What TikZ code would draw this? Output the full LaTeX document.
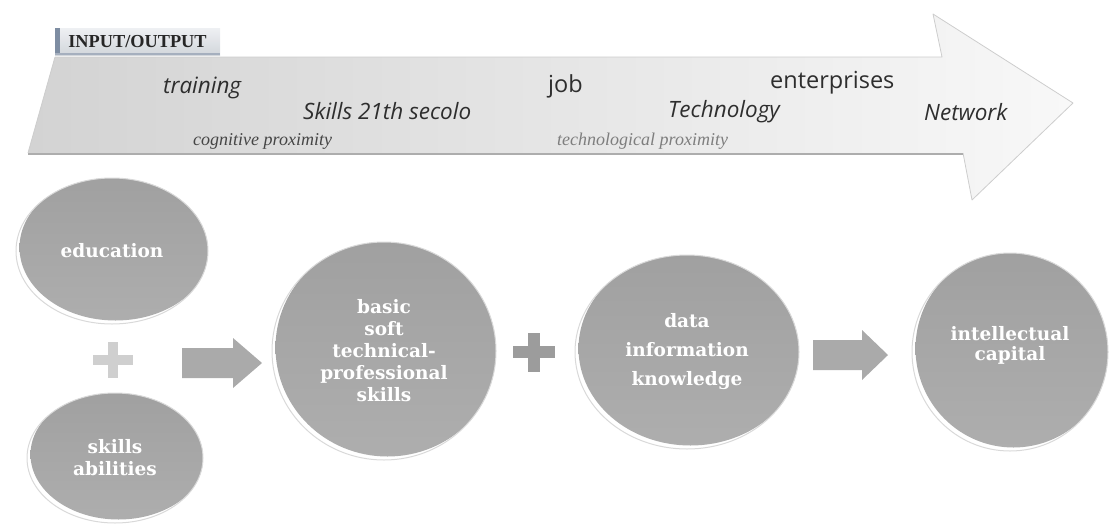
\documentclass[tikz,border=0pt]{standalone}
\usepackage{fontspec}
\setmainfont{DejaVu Serif}
\newfontfamily\flowsans{Open Sans}
\newfontfamily\flowserif{Liberation Serif}
\usetikzlibrary{shapes.geometric}

\definecolor{bandleft}{HTML}{D3D3D3}
\definecolor{bandright}{HTML}{F8F8F8}
\definecolor{bandedge}{HTML}{CDCDCD}
\definecolor{bandshadow}{HTML}{ADADAD}
\definecolor{tabtop}{HTML}{EEF0F3}
\definecolor{tabbot}{HTML}{D2D6DB}
\definecolor{tabedge}{HTML}{7E8DA2}
\definecolor{bubtop}{HTML}{A0A0A0}
\definecolor{bubbot}{HTML}{AEAEAE}
\definecolor{bubrim}{HTML}{D9D9D9}
\definecolor{lightplus}{HTML}{CFCFCF}
\definecolor{darkplus}{HTML}{9C9C9C}
\definecolor{blockgray}{HTML}{AAAAAA}
\definecolor{inkdark}{HTML}{2E2E2E}
\definecolor{inkmid}{HTML}{454545}
\definecolor{inklight}{HTML}{7E7E7E}

\tikzset{
  bubble/.style n args={2}{
    ellipse, inner sep=0pt, outer sep=0pt,
    minimum width=2*#1 pt, minimum height=2*#2 pt,
    fill=white, draw=bubrim, line width=1pt,
    text=white, align=center,
    font=\bfseries\fontsize{18.5}{22}\selectfont,
    path picture={
      \shade[top color=bubtop, bottom color=bubbot]
        ([shift={(3.5pt,3.5pt)}]path picture bounding box.center)
        ellipse [x radius=#1pt, y radius=#2pt];
    }
  },
  bandsans/.style={anchor=base west, inner sep=0pt, text=inkdark,
    font=\flowsans\fontsize{23.5}{26}\selectfont},
  bandital/.style={bandsans, font=\flowsans\itshape\fontsize{22.5}{26}\selectfont},
  bandnote/.style={anchor=base west, inner sep=0pt, text=inkmid,
    font=\flowserif\itshape\fontsize{18}{20}\selectfont},
  tabbox/.style={rectangle, inner sep=0pt, minimum width=165pt, minimum height=27pt,
    top color=tabtop, bottom color=tabbot,
    font=\flowserif\bfseries\fontsize{18.3}{20}\selectfont, text=black!85,
    path picture={
      \fill[tabedge] (path picture bounding box.south west)
        rectangle ([xshift=5pt]path picture bounding box.north west);
      \fill[tabedge!70] (path picture bounding box.south west)
        rectangle ([yshift=2pt]path picture bounding box.south east);
    }
  },
  blockarrow/.style={fill=blockgray, draw=none},
}

\begin{document}
\begin{tikzpicture}[x=1pt, y=-1pt]
  \useasboundingbox (0,0) rectangle (1110,525);

  % the long process band with its arrow head
  \shade[left color=bandleft, right color=bandright]
    (55,57) -- (942,57) -- (933,14) -- (1073,103) -- (972,200) -- (963,153)
    -- (28,153) -- cycle;
  \draw[bandedge, line width=0.8pt, line join=round]
    (55,57) -- (942,57) -- (933,14) -- (1073,103) -- (972,200) -- (963,153);
  \draw[bandshadow, line width=1.6pt] (28,154) -- (963,154);
  \draw[bandedge, line width=0.8pt] (28,153) -- (55,57);

  % tab label
  \node[tabbox] (io) at (137.5,41.5) {INPUT/OUTPUT};

  % words along the band
  \node[bandital] (training) at (163,93) {training};
  \node[bandital] (skills21) at (303,119) {Skills 21th secolo};
  \node[bandnote] (cogprox) at (193,145) {cognitive proximity};
  \node[bandsans] (job) at (548,92) {job};
  \node[bandital] (tech) at (668,117) {Technology};
  \node[bandnote, text=inklight] (techprox) at (557,145) {technological proximity};
  \node[bandsans] (enterp) at (770,88) {enterprises};
  \node[bandital] (network) at (924,120) {Network};

  % bubbles
  \node[bubble={96}{73}] (edu) at (112,251) {education};
  \node[bubble={88}{65}] (abil) at (115,458) {skills\\abilities};
  \node[bubble={112}{109}] (basic) at (384,351)
    {basic\\soft\\technical-\\professional\\skills};
  \node[bubble={112}{97}] (data) at (687,352)
    {data\\[7pt]information\\[7pt]knowledge};
  \node[bubble={98}{99}] (intel) at (1010,352) {};
  \node[text=white, align=center, inner sep=0pt,
        font=\bfseries\fontsize{18.5}{20}\selectfont] (inteltext) at (1010,345)
    {intellectual\\capital};

  % plus signs
  \fill[lightplus] (93,355) rectangle (133,365);
  \fill[lightplus] (108,342) rectangle (118,378);
  \fill[darkplus] (513,346) rectangle (555,358);
  \fill[darkplus] (528,333) rectangle (540,372);

  % block arrows between the bubbles
  \fill[blockarrow] (182,348) -- (233,348) -- (233,338) -- (262,363)
    -- (233,388) -- (233,378) -- (182,378) -- cycle;
  \fill[blockarrow] (813,340) -- (862,340) -- (862,330) -- (888,355)
    -- (862,380) -- (862,370) -- (813,370) -- cycle;
\end{tikzpicture}
\end{document}
